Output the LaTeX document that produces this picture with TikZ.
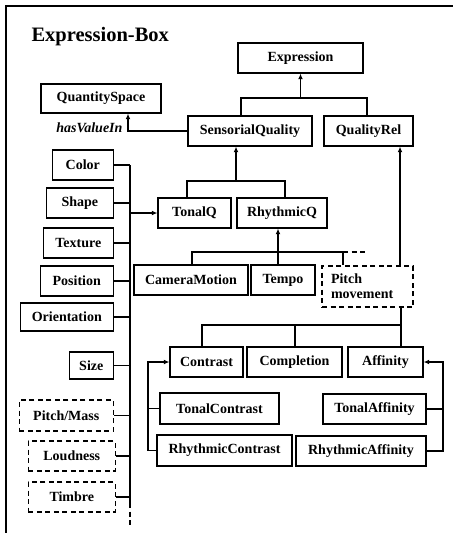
\documentclass[tikz,border=0pt]{standalone}
\usepackage{fontspec}
\setmainfont{Liberation Serif}
\usetikzlibrary{arrows.meta, positioning}
\tikzset{
  qbox/.style={draw, line width=1.4pt, minimum height=30pt, inner sep=0pt, font=\bfseries\fontsize{14}{16}\selectfont},
  dbox/.style={qbox, dash pattern=on 5pt off 3.5pt},
  link/.style={line width=1.3pt},
}

\begin{document}
\begin{tikzpicture}[x=1pt, y=-1pt, >={Latex[length=5.5pt,width=5pt]}]
        \useasboundingbox (0,0) rectangle (453,533);

        % Frame and title
        \draw[line width=2pt] (6,533) -- (6,6) -- (453,6);
        \node[anchor=west, font=\bfseries\fontsize{20.5}{24}\selectfont] (title) at (28,37) {Expression-Box};

        % Upper classes
        \node[qbox, minimum width=125] (expr) at (300.5,58) {Expression};
        \node[qbox, minimum width=120, minimum height=29] (qspace) at (101,98.5) {QuantitySpace};
        \node[qbox, minimum width=124] (sensq) at (250,131) {SensorialQuality};
        \node[qbox, minimum width=89] (qrel) at (368.5,131) {QualityRel};
        \node[qbox, minimum width=73] (tonalq) at (194.5,213) {TonalQ};
        \node[qbox, minimum width=90] (rhythq) at (282,213) {RhythmicQ};
        \node[qbox, minimum width=114] (cammot) at (191,280) {CameraMotion};
        \node[qbox, minimum width=64] (tempo) at (283,280) {Tempo};
        \node[dbox, text width=73, inner xsep=9, minimum height=41, align=left] (pitchmv) at (367.5,286.5) {Pitch\\[-1pt]movement};

        % Relations
        \node[qbox, minimum width=73] (contrast) at (206.5,362) {Contrast};
        \node[qbox, minimum width=95] (complet) at (294.5,362) {Completion};
        \node[qbox, minimum width=75] (affin) at (385.5,362) {Affinity};
        \node[qbox, minimum width=119, minimum height=31] (tonalcon) at (219.5,408.5) {TonalContrast};
        \node[qbox, minimum width=135, minimum height=31] (rhythcon) at (224.5,450.5) {RhythmicContrast};
        \node[qbox, minimum width=103] (tonalaff) at (374.5,409) {TonalAffinity};
        \node[qbox, minimum width=130] (rhythaff) at (361,451) {RhythmicAffinity};

        % Left column (right edges aligned)
        \node[qbox, minimum width=61, anchor=east] (color) at (114,165) {Color};
        \node[qbox, minimum width=67, anchor=east] (shape) at (114,203) {Shape};
        \node[qbox, minimum width=70, anchor=east] (texture) at (114,243) {Texture};
        \node[qbox, minimum width=73, anchor=east] (position) at (114,281) {Position};
        \node[qbox, minimum width=93, minimum height=28, anchor=east] (orient) at (114,317) {Orientation};
        \node[qbox, minimum width=44, minimum height=27, anchor=east] (size) at (114,365.5) {Size};
        \node[dbox, minimum width=94, minimum height=31, anchor=east] (pitchmass) at (114,415.5) {Pitch/Mass};
        \node[dbox, minimum width=87, anchor=east] (loud) at (116,456) {Loudness};
        \node[dbox, minimum width=87, anchor=east] (timbre) at (116,497) {Timbre};

        % hasValueIn
        \coordinate (hv) at (128,131);
        \draw[link,->] (sensq.west) -- (hv) -- (hv |- qspace.south);
        \node[anchor=east, font=\bfseries\itshape\fontsize{14}{16}\selectfont] (hasval) at (126,128) {hasValueIn};

        % SensorialQuality / QualityRel to Expression
        \coordinate (e0) at (300.5,98);
        \coordinate (e1) at (241,98);
        \coordinate (e2) at (367,98);
        \draw[link,->] (e0) -- (expr.south);
        \draw[link] (e1 |- sensq.north) -- (e1) -- (e2) -- (e2 |- qrel.north);

        % TonalQ / RhythmicQ to SensorialQuality
        \coordinate (s0) at (236,181);
        \coordinate (s1) at (187,181);
        \coordinate (s2) at (285,181);
        \draw[link,->] (s0) -- (s0 |- sensq.south);
        \draw[link] (s1 |- tonalq.north) -- (s1) -- (s2) -- (s2 |- rhythq.north);

        % CameraMotion / Tempo / Pitch movement to RhythmicQ
        \coordinate (r0) at (278,252);
        \coordinate (r1) at (192,252);
        \coordinate (r2) at (343,252);
        \coordinate (r3) at (368,252);
        \draw[link,->] (r0 |- tempo.north) -- (r0 |- rhythq.south);
        \draw[link] (r1 |- cammot.north) -- (r1) -- (r2) -- (r2 |- pitchmv.north);
        \draw[link, dash pattern=on 5pt off 3.5pt] (r2) -- (r3);

        % Pitch movement to QualityRel
        \coordinate (q0) at (400,200);
        \draw[link,->] (q0 |- pitchmv.north) -- (q0 |- qrel.south);

        % Pitch movement down to Contrast / Completion / Affinity
        \coordinate (p0) at (401,325);
        \coordinate (p1) at (202,325);
        \coordinate (p2) at (295,325);
        \draw[link] (p0 |- pitchmv.south) -- (p0);
        \draw[link] (p1 |- contrast.north) -- (p1) -- (p0) -- (p0 |- affin.north);
        \draw[link] (p2) -- (p2 |- complet.north);

        % Contrast subclasses
        \coordinate (c0) at (148,400);
        \draw[link,->] (rhythcon.west) -| (c0 |- contrast.west) -- (contrast.west);
        \draw[link] (tonalcon.west) -- (c0 |- tonalcon.west);

        % Affinity subclasses
        \coordinate (a0) at (443,400);
        \draw[link,->] (rhythaff.east) -| (a0 |- affin.east) -- (affin.east);
        \draw[link] (tonalaff.east) -- (a0 |- tonalaff.east);

        % Left column bus
        \coordinate (b0) at (130,165);
        \coordinate (b1) at (130,503);
        \coordinate (b2) at (130,525);
        \draw[link] (b0) -- (b1);
        \draw[link, dash pattern=on 5pt off 3.5pt] (b1) -- (b2);
        \draw[link] (color.east) -- (color.east -| b0);
        \draw[link] (shape.east) -- (shape.east -| b0);
        \draw[link] (texture.east) -- (texture.east -| b0);
        \draw[link] (position.east) -- (position.east -| b0);
        \draw[link] (orient.east) -- (orient.east -| b0);
        \draw[link] (size.east) -- (size.east -| b0);
        \draw[link] (pitchmass.east) -- (pitchmass.east -| b0);
        \draw[link] (loud.east) -- (loud.east -| b0);
        \draw[link] (timbre.east) -- (timbre.east -| b0);
        \draw[link,->] (tonalq.west -| b0) -- (tonalq.west);

    \end{tikzpicture}
\end{document}
